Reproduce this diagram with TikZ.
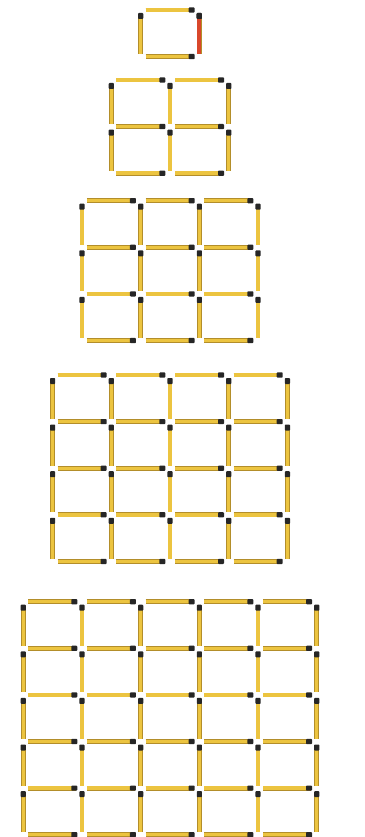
\documentclass[tikz,border=0pt]{standalone}
\usetikzlibrary{calc}
\definecolor{matchyellow}{HTML}{ECC440}
\definecolor{matchedge}{HTML}{B38E2A}
\definecolor{matchhead}{HTML}{262626}
\definecolor{matchred}{HTML}{D9472B}

% one match lying flat, head on the right
\newcommand{\hmatch}[3][matchyellow]{%
  \draw[stickedge] ($(#2,#3)+(5,0)$) -- ($(#2,#3)+(53,0)$);
  \draw[stick, draw=#1] ($(#2,#3)+(5,0)$) -- ($(#2,#3)+(53,0)$);
  \fill[head] ($(#2,#3)+(48,-2.6)$) rectangle ($(#2,#3)+(54,2.6)$);
}
% one match standing up, head on top
\newcommand{\vmatch}[3][matchyellow]{%
  \draw[stickedge] ($(#2,#3)+(0,4)$) -- ($(#2,#3)+(0,44)$);
  \draw[stick, draw=#1] ($(#2,#3)+(0,4)$) -- ($(#2,#3)+(0,44)$);
  \fill[head] ($(#2,#3)+(-2.6,3)$) rectangle ($(#2,#3)+(2.6,9)$);
}

\begin{document}
\begin{tikzpicture}[x=1pt, y=-1pt,
  stickedge/.style={line width=4.8pt, draw=matchedge},
  stick/.style={line width=3.4pt, draw=matchyellow},
  head/.style={fill=matchhead, rounded corners=0.8pt}
]
\useasboundingbox (0,0) rectangle (364,837);

\foreach \n/\ytop in {1/10, 2/80, 3/200.7, 4/375, 5/601.7} {
  \pgfmathsetmacro{\xleft}{170-\n*29.35}
  % rows
  \foreach \i in {1,...,\n}
    \foreach \j in {0,...,\n} {
      \pgfmathsetmacro{\gx}{\xleft+(\i-1)*58.7}
      \pgfmathsetmacro{\gy}{\ytop+\j*46.6}
      \hmatch{\gx}{\gy}
    }
  % columns
  \foreach \i in {0,...,\n}
    \foreach \j in {1,...,\n} {
      \pgfmathsetmacro{\gx}{\xleft+\i*58.7}
      \pgfmathsetmacro{\gy}{\ytop+(\j-1)*46.6}
      \vmatch{\gx}{\gy}
    }
}

% the odd one
\vmatch[matchred]{199.05}{10}

\end{tikzpicture}
\end{document}
